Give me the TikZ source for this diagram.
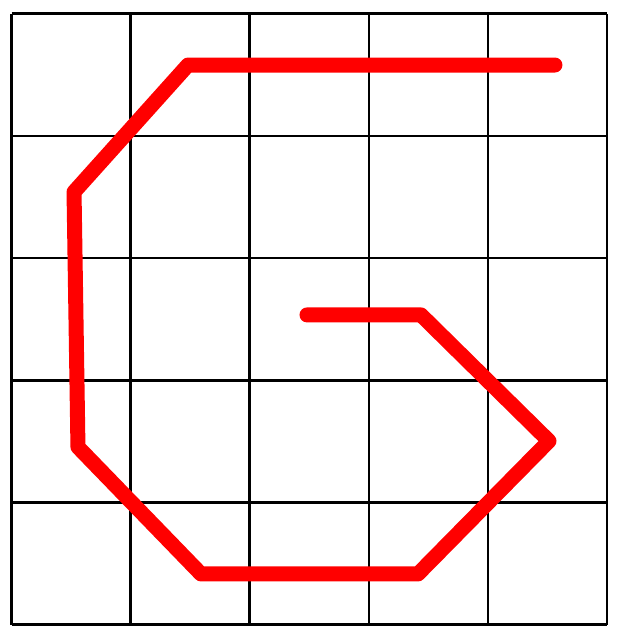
\documentclass[tikz,border=0pt]{standalone}
\usepackage{tikz}
\definecolor{ink}{HTML}{000000}
\definecolor{penC}{HTML}{FF0000}
\tikzset{
  gridline/.style={ink,line width=1.25pt},
  stroke/.style={penC,line width=7.5pt,line cap=round,line join=round}}
\begin{document}
\begin{tikzpicture}[x=59.55pt,y=61.1pt]
\useasboundingbox (-0.0966,-0.068) rectangle (5.092,5.112);
\foreach \i in {0,...,5} {\draw[gridline] (\i,0) -- (\i,5);}
\foreach \j in {0,...,5} {\draw[gridline] (0,\j) -- (5,\j);}
% pen path
\coordinate (p1) at (4.563,4.580);
\coordinate (p2) at (1.482,4.580);
\coordinate (p3) at (0.525,3.541);
\coordinate (p4) at (0.558,1.454);
\coordinate (p5) at (1.591,0.415);
\coordinate (p6) at (3.413,0.415);
\coordinate (p7) at (4.513,1.503);
\coordinate (p8) at (3.438,2.535);
\coordinate (p9) at (2.481,2.535);
\draw[stroke] (p1) -- (p2) -- (p3) -- (p4) -- (p5) -- (p6) -- (p7) -- (p8) -- (p9);
\end{tikzpicture}
\end{document}
